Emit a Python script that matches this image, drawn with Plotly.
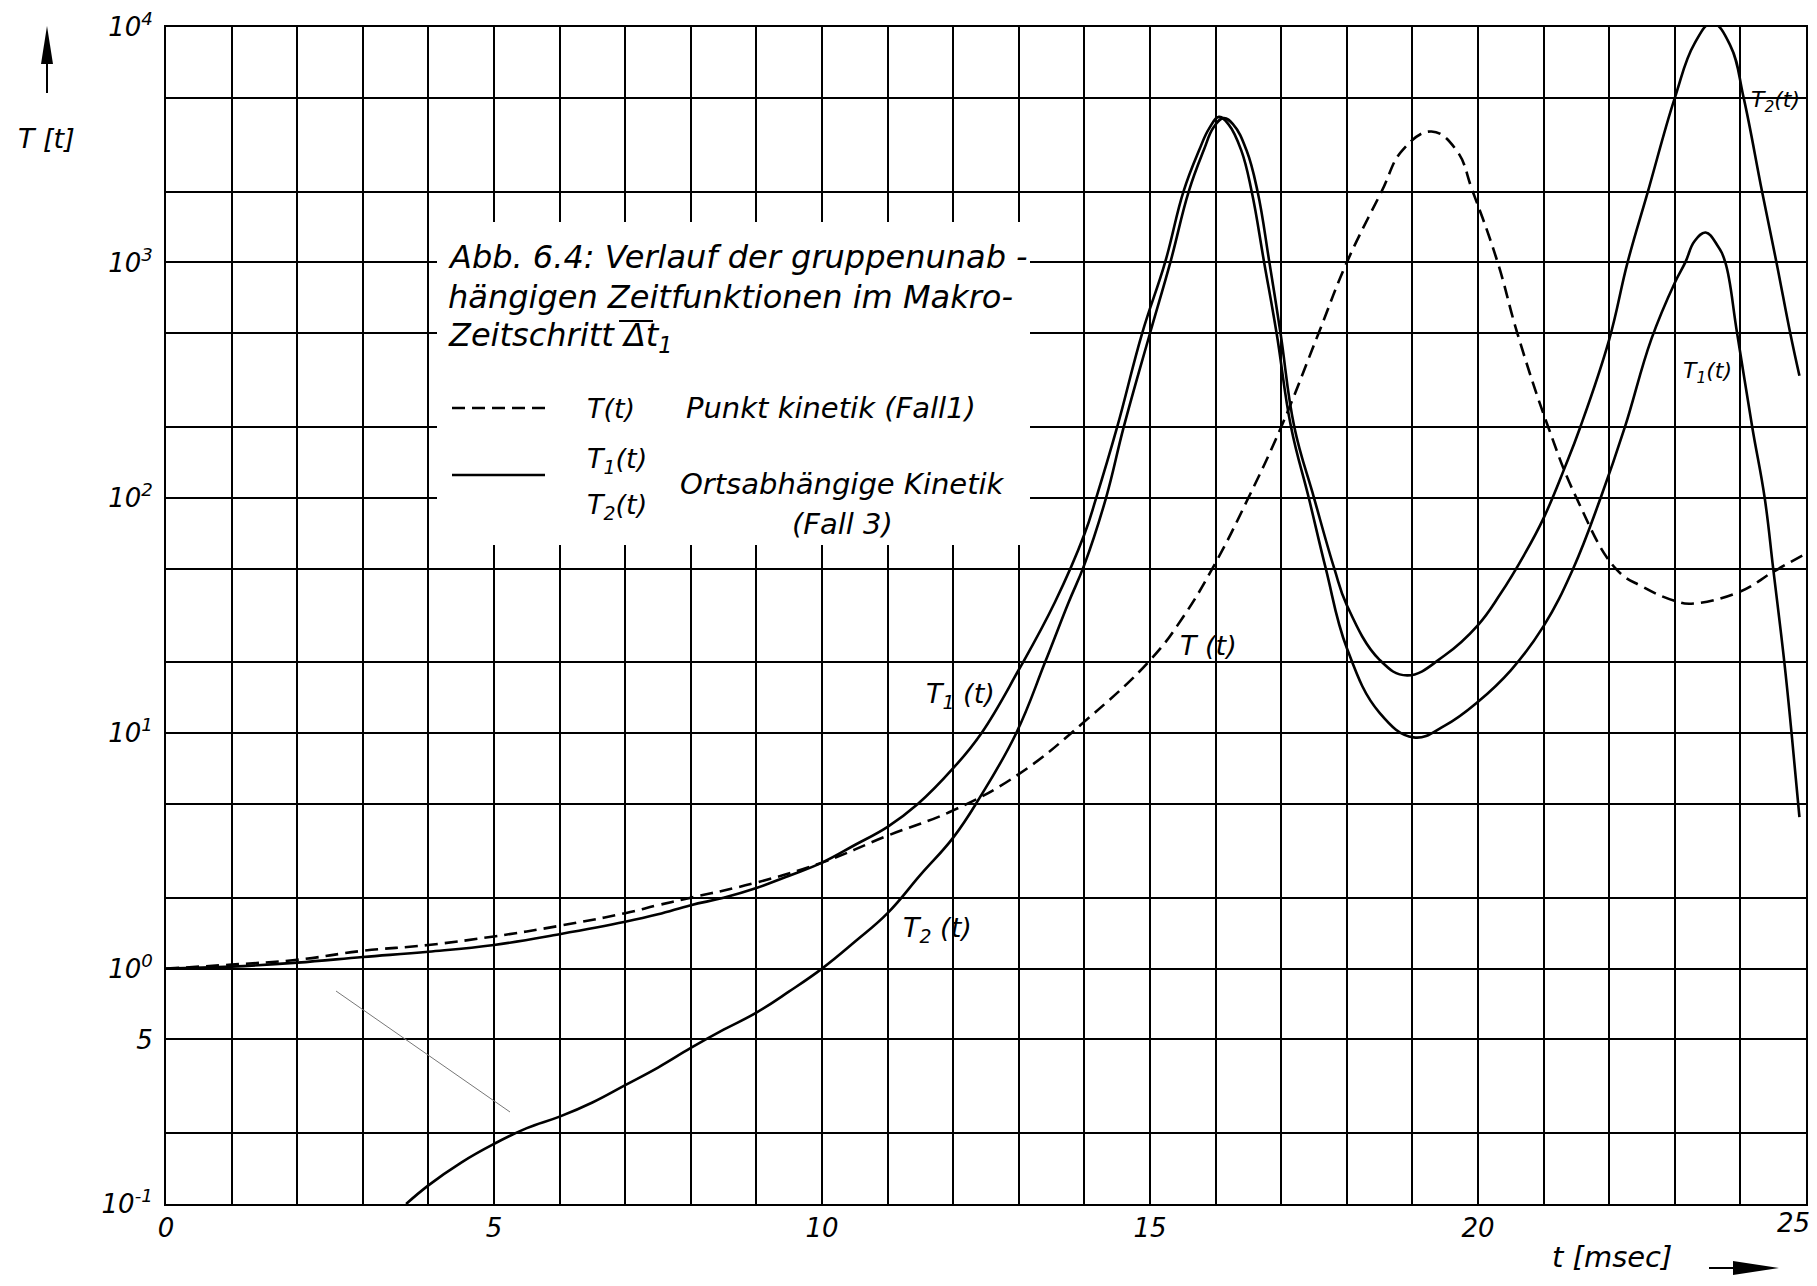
import plotly.graph_objects as go

# ---------------- data ----------------
# T(t): Punktkinetik (Fall 1), dashed
t_T = [0, 1, 2, 3, 4, 5, 6, 7, 7.5, 8, 9, 10, 11, 12, 13, 14, 15, 15.5, 16, 16.5,
       17, 17.57, 18, 18.53, 18.85, 19.29, 19.67, 19.92, 20.3, 20.6, 21.07, 21.5,
       22.1, 22.5, 23, 23.25, 24, 24.5, 25]
v_T = [1.0, 1.04, 1.09, 1.19, 1.26, 1.37, 1.52, 1.72, 1.86, 2.0, 2.32, 2.82, 3.67,
       4.7, 6.7, 11.2, 20.4, 31, 53, 100, 200, 500, 1000, 2000, 3000, 3600, 3000,
       2000, 1000, 500, 200, 100, 50, 42, 36.5, 35.5, 40, 48.5, 58]

# T1(t): Ortsabhaengige Kinetik (Fall 3), solid
t_T1 = [0, 1, 2, 3, 4, 5, 6, 7, 7.5, 8, 8.5, 9, 9.5, 10, 10.5, 11, 11.46, 12, 12.43,
        13, 13.55, 14, 14.18, 14.5, 14.88, 15.23, 15.51, 15.75, 15.9, 16.05, 16.2,
        16.39, 16.55, 16.74, 16.93, 17.15, 17.42, 17.68, 18.0, 18.5, 19.02, 19.5,
        20, 20.5, 21, 21.45, 21.87, 22.24, 22.64, 23.0, 23.16, 23.3, 23.47, 23.65,
        23.77, 23.95, 24.18, 24.37, 24.5, 24.67, 24.78, 24.9]
v_T1 = [1.0, 1.02, 1.06, 1.12, 1.18, 1.26, 1.40, 1.58, 1.70, 1.86, 2.0, 2.2, 2.48,
        2.82, 3.35, 4.0, 5.0, 7.1, 10, 18.6, 36, 70, 100, 200, 500, 1000, 2000,
        3000, 3700, 4150, 3850, 3000, 2000, 1000, 500, 200, 100, 50, 23, 12.2, 9.6,
        10.8, 13.6, 18.5, 28.5, 50, 100, 200, 470, 820, 1000, 1230, 1340, 1180,
        1000, 500, 200, 100, 50, 20, 10, 4.4]

# T2(t): Ortsabhaengige Kinetik (Fall 3), solid
t_T2 = [3.66, 4, 4.5, 5, 5.5, 6, 6.5, 7, 7.5, 8, 8.5, 9, 9.5, 10, 10.5, 11, 11.5,
        12, 12.4, 12.96, 13.4, 13.76, 14.0, 14.33, 14.6, 15.0, 15.31, 15.59, 15.82,
        15.97, 16.12, 16.27, 16.47, 16.64, 16.82, 16.99, 17.2, 17.5, 17.81, 18.0,
        18.5, 18.92, 19.5, 20, 20.34, 20.7, 21, 21.33, 21.56, 22.0, 22.28, 22.59,
        23.0, 23.3, 23.57, 23.85, 24.05, 24.33, 24.55, 24.76, 24.9]
v_T2 = [0.1, 0.12, 0.15, 0.18, 0.21, 0.235, 0.27, 0.32, 0.38, 0.46, 0.55, 0.65, 0.8,
        1.0, 1.3, 1.72, 2.5, 3.6, 5.3, 10, 20, 36, 52, 100, 200, 500, 1000, 2000,
        3000, 3750, 4100, 3850, 3000, 2000, 1000, 500, 200, 100, 50, 35, 20.5, 17.6,
        21.5, 28.8, 39, 57, 82, 136, 200, 470, 1000, 2000, 5000, 8500, 10400, 8300,
        5000, 2000, 1000, 500, 330]

x_tickvals = list(range(0, 26))
x_ticktext = [str(v) if v % 5 == 0 and v < 25 else "" for v in x_tickvals]
x_last_label = "25"
y_tickvals = [0.1, 0.2, 0.5, 1, 2, 5, 10, 20, 50, 100, 200, 500, 1000, 2000, 5000, 10000]
y_ticktext = ["10<sup>-1</sup>", "", "5", "10<sup>0</sup>", "", "", "10<sup>1</sup>", "", "",
              "10<sup>2</sup>", "", "", "10<sup>3</sup>", "", "", "10<sup>4</sup>"]

# ---------------- layout geometry (pixels) ----------------
WIDTH, HEIGHT = 1817, 1286
L, R, T, B = 166, 1806, 27, 1204
PW, PH = R - L, B - T
FONT = "DejaVu Sans"


def px(x):
    return (x - L) / PW


def py(y):
    return (B - y) / PH


def ann(text, x, y, size, xanchor="center", yanchor="middle"):
    return dict(text=text, xref="paper", yref="paper", x=px(x), y=py(y),
                showarrow=False, xanchor=xanchor, yanchor=yanchor,
                font=dict(family=FONT, size=size, color="black", style="italic"))


LINE_W = 2.6
fig = go.Figure()
fig.add_trace(go.Scatter(x=t_T, y=v_T, mode="lines", name="T(t)",
                         line=dict(color="black", width=LINE_W, dash="13px,7px",
                                   shape="spline", smoothing=1.2)))
fig.add_trace(go.Scatter(x=t_T1, y=v_T1, mode="lines", name="T1(t)",
                         line=dict(color="black", width=LINE_W, shape="spline", smoothing=1.2)))
fig.add_trace(go.Scatter(x=t_T2, y=v_T2, mode="lines", name="T2(t)",
                         line=dict(color="black", width=LINE_W, shape="spline", smoothing=1.2)))

shapes = []
# white caption box covering the grid
shapes.append(dict(type="rect", xref="paper", yref="paper", x0=px(437), x1=px(1030),
                   y0=py(545), y1=py(222), fillcolor="white", line=dict(width=0),
                   layer="above"))
# overline above "Δt" in the caption
shapes.append(dict(type="line", xref="paper", yref="paper", x0=px(619), x1=px(653),
                   y0=py(321), y1=py(321), line=dict(color="black", width=2)))
# legend line samples
shapes.append(dict(type="line", xref="paper", yref="paper", x0=px(452), x1=px(545),
                   y0=py(408), y1=py(408), line=dict(color="black", width=LINE_W, dash="13px,7px")))
shapes.append(dict(type="line", xref="paper", yref="paper", x0=px(452), x1=px(545),
                   y0=py(475), y1=py(475), line=dict(color="black", width=LINE_W)))
# y axis arrow
shapes.append(dict(type="line", xref="paper", yref="paper", x0=px(47), x1=px(47),
                   y0=py(93), y1=py(60), line=dict(color="black", width=2)))
shapes.append(dict(type="path", xref="paper", yref="paper",
                   path=f"M {px(47)},{py(26)} L {px(41)},{py(64)} L {px(53)},{py(64)} Z",
                   fillcolor="black", line=dict(width=0)))
# x axis arrow
shapes.append(dict(type="line", xref="paper", yref="paper", x0=px(1709), x1=px(1745),
                   y0=py(1268), y1=py(1268), line=dict(color="black", width=2)))
shapes.append(dict(type="path", xref="paper", yref="paper",
                   path=f"M {px(1733)},{py(1261)} L {px(1779)},{py(1268)} L {px(1733)},{py(1275)} Z",
                   fillcolor="black", line=dict(width=0)))
# faint stray pencil line of the original scan
shapes.append(dict(type="line", xref="paper", yref="paper", x0=px(336), x1=px(510),
                   y0=py(991), y1=py(1112), line=dict(color="#777777", width=1)))

annotations = [
    ann("Abb. 6.4: Verlauf der gruppenunab -", 446, 257, 32, xanchor="left"),
    ann("hängigen Zeitfunktionen im Makro-", 446, 297, 32, xanchor="left"),
    ann("Zeitschritt Δt<sub>1</sub>", 446, 337, 32, xanchor="left"),
    ann("T(t)", 585, 408, 27, xanchor="left"),
    ann("Punkt kinetik (Fall1)", 684, 408, 29, xanchor="left"),
    ann("T<sub>1</sub>(t)", 585, 460, 27, xanchor="left"),
    ann("T<sub>2</sub>(t)", 585, 506, 27, xanchor="left"),
    ann("Ortsabhängige Kinetik", 678, 484, 29, xanchor="left"),
    ann("(Fall 3)", 842, 524, 29),
    ann("T<sub>1</sub> (t)", 960, 695, 27),
    ann("T<sub>2</sub> (t)", 937, 929, 27),
    ann("T (t)", 1208, 645, 27),
    ann("T<sub>2</sub>(t)", 1775, 102, 22),
    ann("T<sub>1</sub>(t)", 1707, 373, 22),
    ann("T [t]", 46, 138, 27),
    ann("t [msec]", 1612, 1257, 29),
    ann(x_last_label, 1812, 1223, 26, xanchor="right"),
]

tickfont = dict(family=FONT, size=26, color="black", style="italic")
fig.update_layout(
    width=WIDTH, height=HEIGHT,
    margin=dict(l=L, r=WIDTH - R, t=T, b=HEIGHT - B, pad=0, autoexpand=False),
    paper_bgcolor="white", plot_bgcolor="white",
    showlegend=False,
    shapes=shapes, annotations=annotations,
    xaxis=dict(range=[0, 25], tickmode="array", tickvals=x_tickvals, ticktext=x_ticktext,
               showgrid=True, gridcolor="black", gridwidth=1.6, zeroline=False,
               showline=True, mirror=True, linecolor="black", linewidth=2, automargin=False,
               ticks="", ticklabelstandoff=0, tickfont=tickfont),
    yaxis=dict(type="log", range=[-1, 4], tickmode="array", tickvals=y_tickvals,
               ticktext=y_ticktext, showgrid=True, gridcolor="black", gridwidth=1.6,
               zeroline=False, showline=True, mirror=True, linecolor="black", linewidth=2,
               automargin=False, ticks="", ticklabelstandoff=6, tickfont=tickfont),
)

fig.write_html("out.html")
